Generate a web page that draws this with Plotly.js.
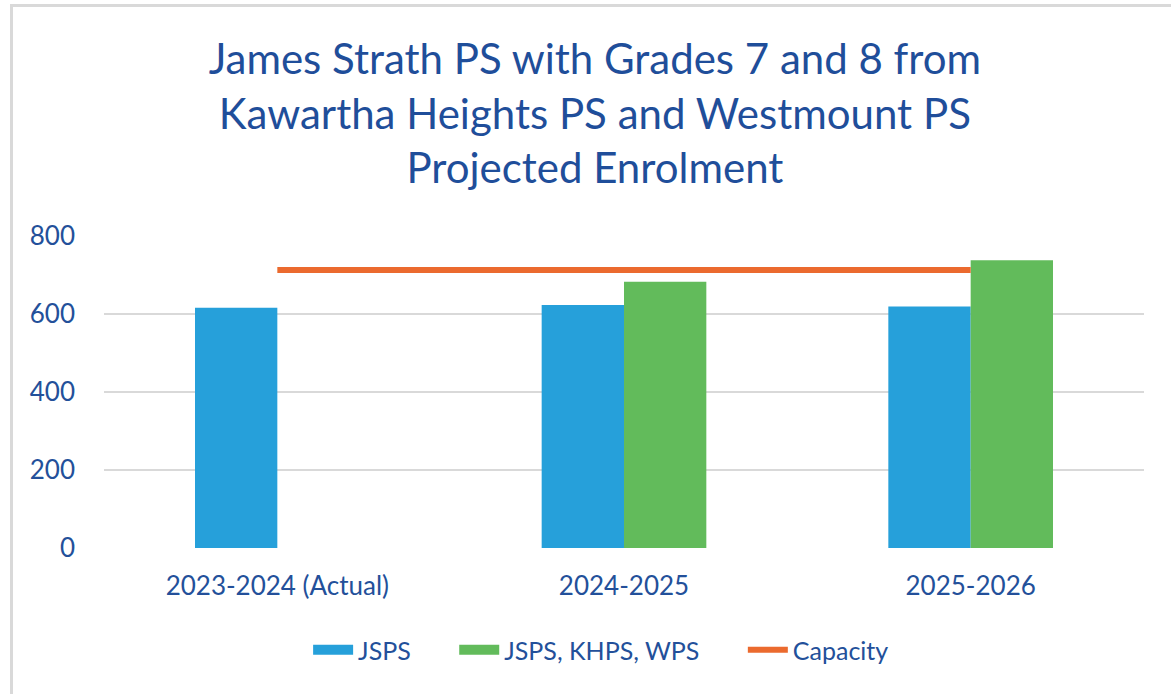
<!DOCTYPE html>
<html>
<head>
<meta charset="utf-8">
<script src="https://cdn.plot.ly/plotly-3.0.1.min.js"></script>
<style>
  html, body { margin: 0; padding: 0; background: #ffffff; overflow: hidden; }
  #chart { width: 1171px; height: 694px; }
  #frame { position: absolute; left: 10px; top: 4px; width: 1300px; height: 900px;
           border: 3px solid #d9d9d9; pointer-events: none; }
</style>
</head>
<body>
<div id="chart"></div>
<div id="frame"></div>
<script>
const categories = ["2023-2024 (Actual)", "2024-2025", "2025-2026"];
const jsps = [616, 623, 619];
const combined = [null, 683, 738];
const capacity = [713, 713, 713];
const yTicks = [0, 200, 400, 600, 800];
const seriesNames = ["JSPS", "JSPS, KHPS, WPS", "Capacity"];

const textColor = "#23509A";
const fontFamily = "Lato, 'Open Sans', sans-serif";
const blue = "#26A0DA", green = "#62BB5B", orange = "#EB6A2E";
const pad = "\u00a0\u00a0\u00a0\u00a0\u00a0\u00a0";

const data = [
  { type: "bar", name: seriesNames[0], x: categories, y: jsps,
    marker: { color: blue }, showlegend: false, legendgroup: "a" },
  { type: "bar", name: seriesNames[1], x: categories, y: combined,
    marker: { color: green }, showlegend: false, legendgroup: "b" },
  { type: "scatter", mode: "lines", name: seriesNames[2], x: categories, y: capacity,
    line: { color: orange, width: 6 }, showlegend: false, legendgroup: "c" },
  // legend-only entries (wide swatches like the original)
  { type: "scatter", mode: "lines", name: seriesNames[0] + pad, x: [null], y: [null],
    line: { color: blue, width: 16 }, legendgroup: "a" },
  { type: "scatter", mode: "lines", name: seriesNames[1] + pad, x: [null], y: [null],
    line: { color: green, width: 16 }, legendgroup: "b" },
  { type: "scatter", mode: "lines", name: seriesNames[2], x: [null], y: [null],
    line: { color: orange, width: 6 }, legendgroup: "c" }
];

const layout = {
  width: 1171, height: 694,
  margin: { l: 104, r: 27, t: 236, b: 146 },
  paper_bgcolor: "#ffffff", plot_bgcolor: "#ffffff",
  font: { family: fontFamily, color: textColor, size: 26 },
  title: {
    text: "James Strath PS with Grades 7 and 8 from<br>Kawartha Heights PS and Westmount PS<br>Projected Enrolment",
    font: { family: fontFamily, size: 42, color: "#1F4E9A" },
    x: 0.508, xanchor: "center", xref: "container",
    y: 1 - 74 / 694, yanchor: "middle", yref: "container"
  },
  barmode: "group", bargap: 0.525, bargroupgap: 0,
  showlegend: true,
  legend: {
    orientation: "h", x: 0.478, xanchor: "center",
    y: 1 - 650 / 694, yanchor: "middle", yref: "container",
    font: { size: 25, color: textColor }, traceorder: "normal",
    itemwidth: 40, tracegroupgap: 0
  },
  xaxis: {
    type: "category", showgrid: false, zeroline: false, showline: false,
    ticks: "", ticklabelstandoff: 20,
    tickfont: { size: 26, color: textColor }
  },
  yaxis: {
    range: [0, 800], tickvals: yTicks, showgrid: true,
    gridcolor: "#d9d9d9", gridwidth: 2, zeroline: false, showline: false,
    ticks: "", ticklabelstandoff: 28,
    tickfont: { size: 26, color: textColor }
  }
};

Plotly.newPlot("chart", data, layout, { displayModeBar: false, staticPlot: true });
</script>
</body>
</html>
